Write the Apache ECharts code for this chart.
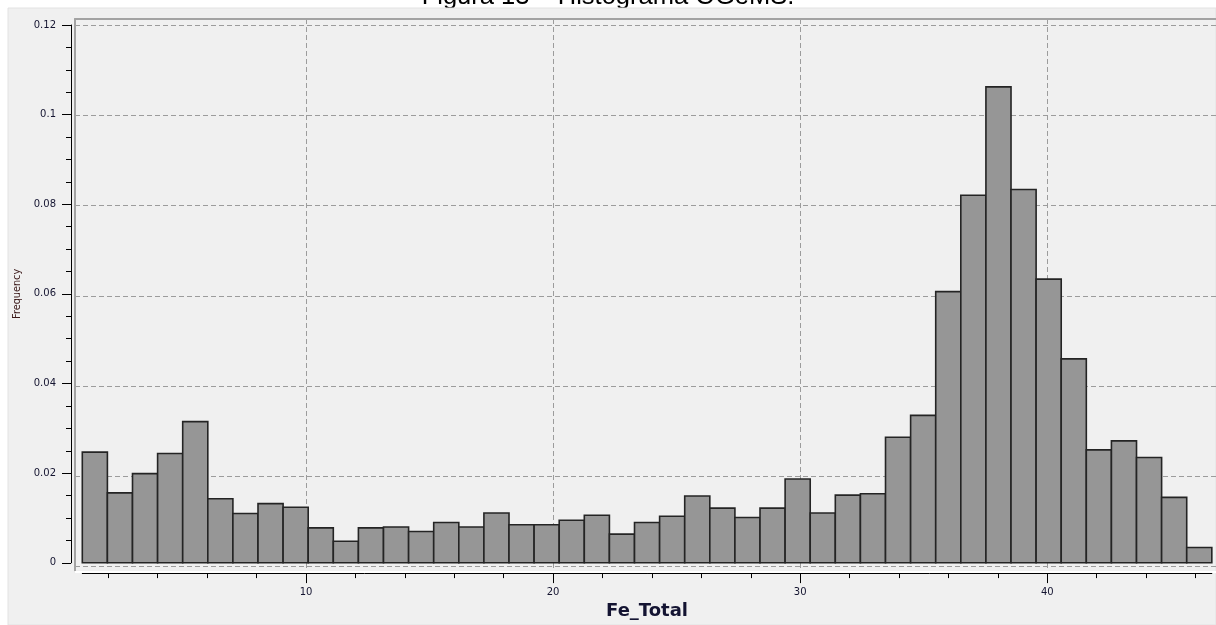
<!DOCTYPE html>
<html>
<head>
<meta charset="utf-8">
<title>Fe_Total</title>
<script src="https://cdn.jsdelivr.net/npm/echarts@6/dist/echarts.min.js"></script>
<style>
  html, body { margin: 0; padding: 0; background: #ffffff; }
  #chart { width: 1216px; height: 625px; }
</style>
</head>
<body>
<div id="chart"></div>
<script>
// Histogram of Fe_Total: 45 equal-width bins, relative frequency per bin
const binStart = 0.947;
const binWidth = 1.0158;
const frequencies = [
  0.0247, 0.0156, 0.0199, 0.0244, 0.0315, 0.0143, 0.0110, 0.0132, 0.0124,
  0.0078, 0.0048, 0.0078, 0.0080, 0.0070, 0.0090, 0.0080, 0.0111, 0.0085,
  0.0085, 0.0095, 0.0106, 0.0064, 0.0090, 0.0104, 0.0149, 0.0122, 0.0101,
  0.0122, 0.0187, 0.0111, 0.0151, 0.0154, 0.0280, 0.0329, 0.0605, 0.0820,
  0.1062, 0.0833, 0.0633, 0.0455, 0.0252, 0.0272, 0.0235, 0.0146, 0.0034
];

// Axis ticks
const xMinorTicks = [2, 4, 6, 8, 10, 12, 14, 16, 18, 20, 22, 24, 26, 28, 30, 32, 34, 36, 38, 40, 42, 44, 46];
const xMajorTicks = [10, 20, 30, 40];
const yMinorTicks = [0, 0.005, 0.01, 0.015, 0.02, 0.025, 0.03, 0.035, 0.04, 0.045, 0.05, 0.055, 0.06,
  0.065, 0.07, 0.075, 0.08, 0.085, 0.09, 0.095, 0.1, 0.105, 0.11, 0.115, 0.12];
const yMajorTicks = [0, 0.02, 0.04, 0.06, 0.08, 0.1, 0.12];
const yMax = 0.12;

// Bins as [left edge, right edge, frequency]
const bins = frequencies.map((f, i) => [binStart + i * binWidth, binStart + (i + 1) * binWidth, f]);
const xMin = binStart;
const xMax = binStart + frequencies.length * binWidth;

// Layout: inner data area and the surrounding plot frame
const W = 1216, H = 625;
const dataArea = { left: 82.3, top: 25, bottom: 58.3 };
const pxPerX = 24.71;
dataArea.right = W - (dataArea.left + (xMax - xMin) * pxPerX);
const frame = { left: 75, top: 19, right: 0, bottom: 53 };
const pxPerY = (H - dataArea.bottom - dataArea.top) / yMax;

// Frame extents in data units, so both grids share one scale
const fxMin = xMin - (dataArea.left - frame.left) / pxPerX;
const fxMax = xMax + (dataArea.right - frame.right) / pxPerX;
const fyMin = 0 - (dataArea.bottom - frame.bottom) / pxPerY;
const fyMax = yMax + (dataArea.top - frame.top) / pxPerY;

const labelFont = { fontFamily: 'DejaVu Sans', fontSize: 10, color: '#141430' };
const gridDash = { color: '#9c9c9c', width: 1, type: [5, 3] };

const chart = echarts.init(document.getElementById('chart'), null, { renderer: 'canvas' });

chart.setOption({
  backgroundColor: '#ffffff',
  animation: false,
  title: {
    text: 'Figura 13 \u2013 Histograma OGeMS.',
    left: 'center',
    top: -21,
    z: 0,
    zlevel: 0,
    textStyle: { fontFamily: 'Liberation Sans', fontSize: 25.5, fontWeight: 'normal', color: '#000000' }
  },
  graphic: [{
    type: 'rect',
    z: 1,
    shape: { x: 8, y: 8, width: W - 8, height: H - 8 },
    style: { fill: '#f0f0f0', stroke: '#e2e2e2', lineWidth: 1 },
    silent: true
  }],
  grid: [
    { left: frame.left, top: frame.top, right: frame.right, bottom: frame.bottom, containLabel: false },
    { left: dataArea.left, top: dataArea.top, right: dataArea.right, bottom: dataArea.bottom, containLabel: false }
  ],
  xAxis: [
    { // frame bottom edge + vertical grid lines
      gridIndex: 0, type: 'value', position: 'bottom', min: fxMin, max: fxMax, z: 3,
      axisLine: { show: true, onZero: false, lineStyle: { color: '#ffffff', width: 2 } },
      axisTick: { show: false, customValues: xMajorTicks },
      axisLabel: { show: false },
      splitLine: { show: true, lineStyle: gridDash }
    },
    { // frame top edge
      gridIndex: 0, type: 'value', position: 'top', min: fxMin, max: fxMax, z: 3,
      axisLine: { show: true, onZero: false, lineStyle: { color: '#a3a3a3', width: 2 } },
      axisTick: { show: false }, axisLabel: { show: false }, splitLine: { show: false }
    },
    { // x axis line with minor ticks
      gridIndex: 1, type: 'value', position: 'bottom', min: xMin, max: xMax, offset: 10.3, z: 3,
      axisLine: { show: true, onZero: false, lineStyle: { color: '#000000', width: 1 } },
      axisTick: { show: true, length: 5, customValues: xMinorTicks, lineStyle: { color: '#000000' } },
      axisLabel: { show: false }, splitLine: { show: false }
    },
    { // major ticks, labels and axis name
      gridIndex: 1, type: 'value', position: 'bottom', min: xMin, max: xMax, offset: 10.3, z: 3,
      name: 'Fe_Total', nameLocation: 'middle', nameGap: 28,
      nameTextStyle: { fontFamily: 'DejaVu Sans', fontSize: 18, fontWeight: 'bold', color: '#141432' },
      axisLine: { show: false, onZero: false },
      axisTick: { show: true, length: 10, customValues: xMajorTicks, lineStyle: { color: '#000000' } },
      axisLabel: Object.assign({ show: true, margin: 14, customValues: xMajorTicks }, labelFont),
      splitLine: { show: false }
    }
  ],
  yAxis: [
    { // frame left edge + horizontal grid lines
      gridIndex: 0, type: 'value', position: 'left', min: fyMin, max: fyMax, z: 3,
      axisLine: { show: true, onZero: false, lineStyle: { color: '#a3a3a3', width: 2 } },
      axisTick: { show: false, customValues: yMajorTicks },
      axisLabel: { show: false },
      splitLine: { show: true, lineStyle: gridDash }
    },
    { // y axis line with minor ticks
      gridIndex: 1, type: 'value', position: 'left', min: 0, max: yMax, offset: 11.3, z: 3,
      axisLine: { show: true, onZero: false, lineStyle: { color: '#000000', width: 1 } },
      axisTick: { show: true, length: 5, customValues: yMinorTicks, lineStyle: { color: '#000000' } },
      axisLabel: { show: false }, splitLine: { show: false }
    },
    { // major ticks, labels and axis name
      gridIndex: 1, type: 'value', position: 'left', min: 0, max: yMax, offset: 11.3, z: 3,
      name: 'Frequency', nameLocation: 'middle', nameGap: 40, nameRotate: 90,
      nameTextStyle: { fontFamily: 'DejaVu Sans', fontSize: 9.7, color: '#3a1818' },
      axisLine: { show: false, onZero: false },
      axisTick: { show: true, length: 9, customValues: yMajorTicks, lineStyle: { color: '#000000' } },
      axisLabel: Object.assign({ show: true, margin: 15, customValues: yMajorTicks }, labelFont),
      splitLine: { show: false }
    }
  ],
  series: [{
    type: 'custom',
    xAxisIndex: 2,
    yAxisIndex: 1,
    z: 4,
    data: bins,
    renderItem: function (params, api) {
      const topLeft = api.coord([api.value(0), api.value(2)]);
      const bottomRight = api.coord([api.value(1), 0]);
      return {
        type: 'rect',
        shape: {
          x: topLeft[0], y: topLeft[1],
          width: bottomRight[0] - topLeft[0],
          height: bottomRight[1] - topLeft[1]
        },
        style: { fill: '#969696', stroke: '#242424', lineWidth: 1.6 }
      };
    }
  }]
});
</script>
</body>
</html>
